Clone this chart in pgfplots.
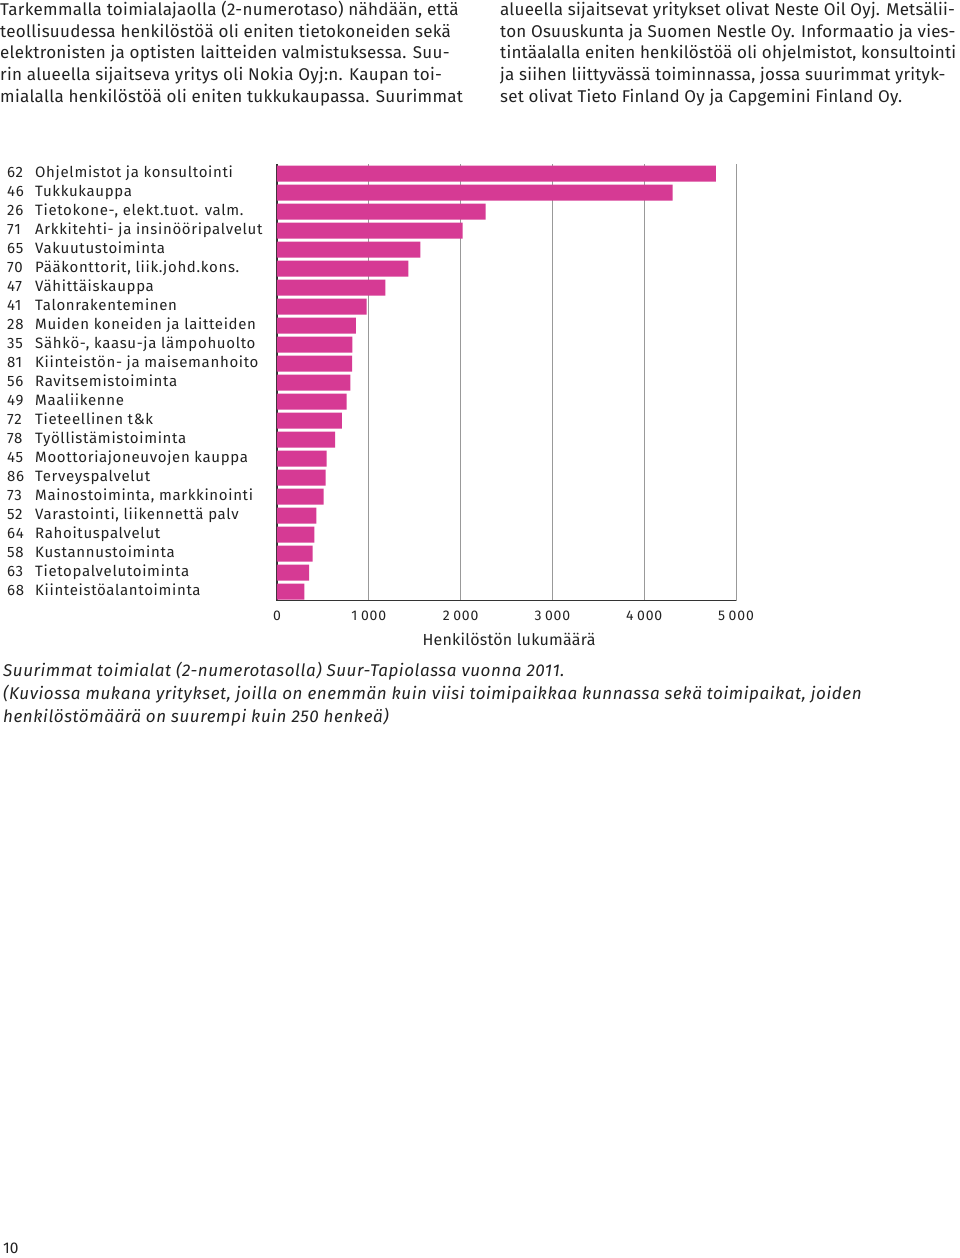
\documentclass[border=0pt]{standalone}
\usepackage{pgfplots}
\pgfplotsset{compat=1.18}
\usepackage{fontspec}
\setmainfont{Fira Sans}
\definecolor{bar}{HTML}{D63A94}
\definecolor{txt}{HTML}{222222}
\newcommand\lab[2]{\makebox[28pt][l]{#1}#2}
\newcommand\ts{\hspace{3.5pt}}

\begin{document}
\begin{tikzpicture}[x=1pt,y=1pt]
\useasboundingbox (0,0) rectangle (960,-1258);

% body text, two columns
\begin{scope}[every node/.style={anchor=base west, inner sep=0pt, text=txt, font=\fontsize{17}{20}\selectfont\addfontfeatures{LetterSpace=1.7}}]
\node at (0,-15.5) {Tarkemmalla toimialajaolla (2-numerotaso) nähdään, että};
\node at (0,-37.2) {teollisuudessa henkilöstöä oli eniten tietokoneiden sekä};
\node at (0,-58.9) {elektronisten ja optisten laitteiden valmistuksessa. Suu-};
\node at (0,-80.6) {rin alueella sijaitseva yritys oli Nokia Oyj:n. Kaupan toi-};
\node at (0,-102.3) {mialalla henkilöstöä oli eniten tukkukaupassa. Suurimmat};
\end{scope}
\begin{scope}[every node/.style={anchor=base west, inner sep=0pt, text=txt, font=\fontsize{17}{20}\selectfont\addfontfeatures{LetterSpace=1.2}}]
\node at (500,-15.5) {alueella sijaitsevat yritykset olivat Neste Oil Oyj. Metsälii-};
\node at (500,-37.2) {ton Osuuskunta ja Suomen Nestle Oy. Informaatio ja vies-};
\node at (500,-58.9) {tintäalalla eniten henkilöstöä oli ohjelmistot, konsultointi};
\node at (500,-80.6) {ja siihen liittyvässä toiminnassa, jossa suurimmat yrityk-};
\node at (500,-102.3) {set olivat Tieto Finland Oy ja Capgemini Finland Oy.};
\end{scope}

\begin{axis}[
    at={(277pt,-600.7pt)}, anchor=south west,
    scale only axis, width=459pt, height=436.7pt,
    xbar, bar width=16pt,
    xmin=0, xmax=5000, ymin=-0.48, ymax=22.51,
    axis x line*=bottom, axis y line*=left,
    axis line style={-, draw=black!80, line width=1.3pt},
    xtick={0,1000,2000,3000,4000,5000},
    xticklabels={0,1\ts000,2\ts000,3\ts000,4\ts000,5\ts000},
    ytick={0,...,22},
    major tick length=0pt,
    xmajorgrids, grid style={draw=black!40, line width=0.9pt},
    xticklabel style={anchor=base, yshift=-19.3pt, inner sep=0pt, text=txt, font=\fontsize{14}{16}\selectfont\addfontfeatures{LetterSpace=6}},
    yticklabel style={anchor=base west, xshift=-270pt, yshift=-3.6pt, inner sep=0pt, text=txt, font=\fontsize{15}{17}\selectfont\addfontfeatures{LetterSpace=4.5}},
    yticklabels={
      {\lab{68}{Kiinteistöalantoiminta}},
      {\lab{63}{Tietopalvelutoiminta}},
      {\lab{58}{Kustannustoiminta}},
      {\lab{64}{Rahoituspalvelut}},
      {\lab{52}{Varastointi, liikennettä palv}},
      {\lab{73}{Mainostoiminta, markkinointi}},
      {\lab{86}{Terveyspalvelut}},
      {\lab{45}{Moottoriajoneuvojen kauppa}},
      {\lab{78}{Työllistämistoiminta}},
      {\lab{72}{Tieteellinen t\&k}},
      {\lab{49}{Maaliikenne}},
      {\lab{56}{Ravitsemistoiminta}},
      {\lab{81}{Kiinteistön- ja maisemanhoito}},
      {\lab{35}{Sähkö-, kaasu-ja lämpohuolto}},
      {\lab{28}{Muiden koneiden ja laitteiden}},
      {\lab{41}{Talonrakenteminen}},
      {\lab{47}{Vähittäiskauppa}},
      {\lab{70}{Pääkonttorit, liik.johd.kons.}},
      {\lab{65}{Vakuutustoiminta}},
      {\lab{71}{Arkkitehti- ja insinööripalvelut}},
      {\lab{26}{Tietokone-, elekt.tuot. valm.}},
      {\lab{46}{Tukkukauppa}},
      {\lab{62}{Ohjelmistot ja konsultointi}}
    },
    xlabel={Henkilöstön lukumäärä},
    xlabel style={at={(axis description cs:0.5,0)}, anchor=base, yshift=-44.3pt, xshift=2.5pt, inner sep=0pt, text=txt, font=\fontsize{16}{18}\selectfont\addfontfeatures{LetterSpace=1.5}},
]
\addplot[fill=bar, draw=none] coordinates {
  (297,0) (349,1) (389,2) (408,3) (428,4) (509,5) (530,6) (541,7)
  (632,8) (708,9) (759,10) (798,11) (818,12) (820,13) (860,14) (977,15)
  (1180,16) (1430,17) (1561,18) (2023,19) (2273,20) (4310,21) (4782,22)
};
\end{axis}

% caption
\begin{scope}[every node/.style={anchor=base west, inner sep=0pt, text=txt, font=\fontsize{17}{20}\selectfont\itshape\addfontfeatures{LetterSpace=3.3}}]
\node at (3,-676) {Suurimmat toimialat (2-numerotasolla) Suur-Tapiolassa vuonna 2011.};
\node at (3,-699) {(Kuviossa mukana yritykset, joilla on enemmän kuin viisi toimipaikkaa kunnassa sekä toimipaikat, joiden};
\node at (3,-722) {henkilöstömäärä on suurempi kuin 250 henkeä)};
\end{scope}

\node[anchor=base west, inner sep=0pt, text=txt, font=\fontsize{15.5}{18}\selectfont] at (3,-1253) {10};
\end{tikzpicture}
\end{document}
